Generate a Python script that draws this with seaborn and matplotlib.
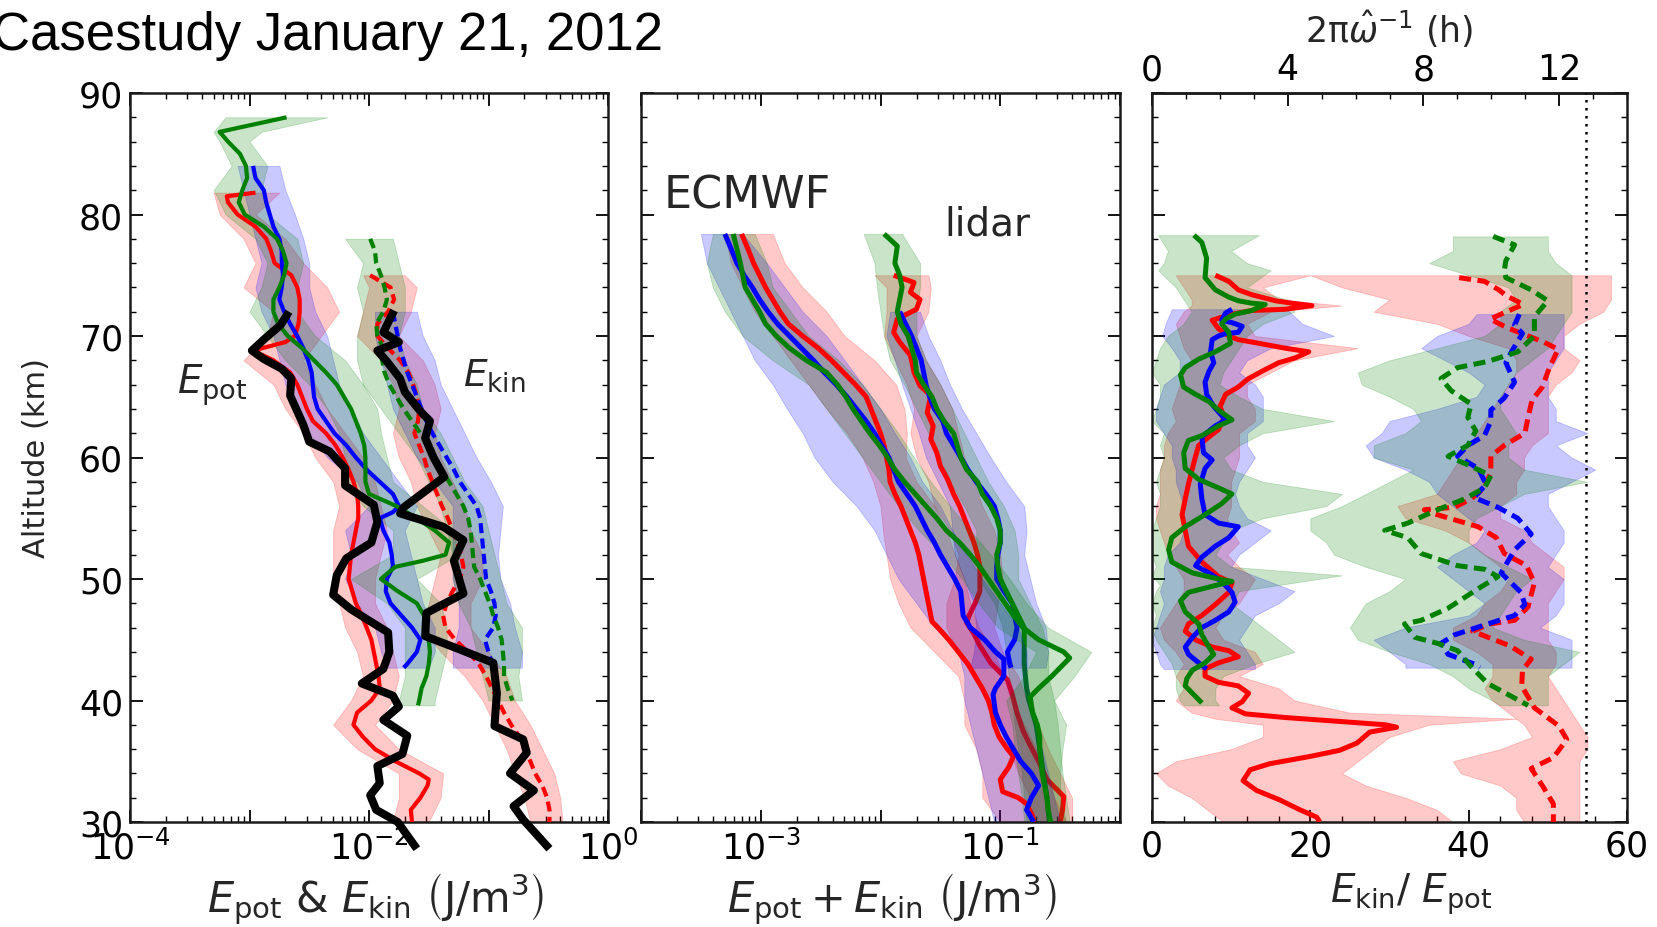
import numpy as np
import matplotlib
matplotlib.use("Agg")
import matplotlib.pyplot as plt
import seaborn as sns
from matplotlib.ticker import FixedLocator, FixedFormatter, LogLocator, NullFormatter, MultipleLocator

# ---------------- DATA ----------------
# Panel 1: Epot / Ekin profiles, values are log10(J/m^3)
p1_epot_red_alt = [81.8, 81.5, 81, 80, 79, 78, 77, 76, 75, 74, 73, 72, 71, 70, 69.5, 68.8, 68, 67, 66, 65, 64, 63, 62, 61, 60, 59, 58, 57, 56, 55, 54, 53, 52, 51, 50, 49, 48, 47, 46, 45, 44, 43, 42, 41, 40, 39, 38, 37, 36, 35, 34, 33.5, 33, 32, 31, 30]
p1_epot_red = [-2.95, -3.19, -3.18, -3.10, -2.95, -2.86, -2.82, -2.79, -2.65, -2.60, -2.58, -2.58, -2.59, -2.62, -2.70, -2.97, -2.80, -2.66, -2.60, -2.56, -2.52, -2.47, -2.36, -2.28, -2.22, -2.17, -2.13, -2.10, -2.09, -2.09, -2.11, -2.13, -2.15, -2.16, -2.17, -2.14, -2.11, -2.06, -2.02, -1.98, -1.96, -1.94, -1.92, -1.91, -1.98, -2.10, -2.13, -2.05, -1.95, -1.78, -1.58, -1.50, -1.51, -1.57, -1.65, -1.64]
p1_epot_red_band_alt = [81.8, 80, 78, 76, 74, 72, 70, 68, 66, 64, 62, 60, 58, 56, 54, 52, 50, 48, 46, 44, 42, 40, 38, 36, 34, 32, 30]
p1_epot_red_lo = [-3.3, -3.25, -3.05, -2.95, -3.05, -2.8, -2.85, -3.05, -2.8, -2.7, -2.55, -2.45, -2.3, -2.25, -2.3, -2.3, -2.3, -2.25, -2.2, -2.1, -2.05, -2.15, -2.3, -2.1, -1.75, -1.75, -1.8]
p1_epot_red_hi = [-2.75, -2.95, -2.7, -2.55, -2.35, -2.25, -2.4, -2.55, -2.45, -2.35, -2.2, -2.05, -1.95, -1.9, -1.85, -1.9, -1.95, -1.95, -1.85, -1.8, -1.75, -1.8, -1.95, -1.75, -1.38, -1.4, -1.5]

p1_epot_blue_alt = [84, 83, 82, 81, 80, 79, 78, 77, 76, 75, 74, 73, 72, 71, 70, 69, 68, 67, 66, 65, 64, 63, 62, 61, 60, 59, 58, 57, 56, 55.5, 55, 54, 53, 52, 51, 50, 49, 48, 47, 46, 45, 44, 43, 42.7]
p1_epot_blue = [-2.97, -2.95, -2.88, -2.86, -2.83, -2.80, -2.75, -2.73, -2.73, -2.72, -2.73, -2.75, -2.71, -2.66, -2.60, -2.55, -2.51, -2.48, -2.47, -2.46, -2.43, -2.36, -2.29, -2.19, -2.11, -2.02, -1.91, -1.80, -1.75, -1.80, -1.91, -1.88, -1.83, -1.81, -1.80, -1.85, -1.86, -1.82, -1.73, -1.64, -1.57, -1.60, -1.68, -1.71]
p1_epot_blue_band_alt = [84, 82, 80, 78, 76, 74, 72, 70, 68, 66, 64, 62, 60, 58, 56, 54, 52, 50, 48, 46, 44, 42.7]
p1_epot_blue_lo = [-3.1, -3.05, -3.0, -2.95, -2.9, -2.95, -2.9, -2.8, -2.75, -2.7, -2.6, -2.5, -2.35, -2.1, -2.0, -2.2, -2.15, -2.2, -2.1, -1.95, -1.9, -1.85]
p1_epot_blue_hi = [-2.75, -2.7, -2.62, -2.55, -2.5, -2.5, -2.45, -2.35, -2.3, -2.25, -2.15, -2.05, -1.9, -1.75, -1.6, -1.7, -1.65, -1.6, -1.55, -1.45, -1.45, -1.5]

p1_epot_green_alt = [88, 86.8, 86, 85, 84, 83, 82, 81, 80, 79, 78, 77, 76, 75, 74, 73, 72, 71, 70, 69, 68, 67, 66, 65, 64, 63, 62, 61, 60, 59, 58, 57, 56, 55, 54, 53, 52, 51.5, 51, 50, 49, 48, 47, 46, 45, 44, 43, 42, 41, 40, 39.6]
p1_epot_green = [-2.69, -3.25, -3.18, -3.08, -3.03, -3.02, -3.06, -3.09, -3.04, -2.88, -2.77, -2.72, -2.69, -2.71, -2.75, -2.80, -2.80, -2.76, -2.68, -2.56, -2.46, -2.36, -2.27, -2.21, -2.15, -2.11, -2.07, -2.04, -2.03, -2.03, -2.03, -2.00, -1.77, -1.60, -1.45, -1.33, -1.36, -1.55, -1.78, -1.90, -1.76, -1.60, -1.54, -1.52, -1.50, -1.49, -1.50, -1.52, -1.56, -1.58, -1.59]
p1_epot_green_band_alt = [88, 86.8, 86, 84, 82, 80, 78, 76, 74, 72, 70, 68, 66, 64, 62, 60, 58, 56, 54, 52, 50, 48, 46, 44, 42, 40, 39.6]
p1_epot_green_lo = [-3.2, -3.3, -3.25, -3.15, -3.3, -3.2, -2.95, -2.85, -2.9, -3.0, -2.85, -2.7, -2.5, -2.35, -2.25, -2.2, -2.2, -2.05, -1.8, -1.8, -2.15, -1.85, -1.7, -1.7, -1.7, -1.75, -1.75]
p1_epot_green_hi = [-2.35, -2.9, -3.0, -2.85, -2.9, -2.85, -2.6, -2.55, -2.6, -2.6, -2.45, -2.2, -2.05, -1.93, -1.9, -1.85, -1.8, -1.55, -1.3, -1.25, -1.6, -1.4, -1.35, -1.35, -1.4, -1.45, -1.45]

p1_ekin_red_alt = [75, 74, 73, 72, 71, 70, 69, 68, 67, 66, 65, 64, 63, 62, 61, 60, 59, 58, 57, 56, 55, 54, 53, 52, 51, 50, 49, 48, 47, 46, 45, 44, 43, 42, 41, 40, 39, 38, 37, 36, 35, 34, 33, 32, 31, 30]
p1_ekin_red = [-1.99, -1.82, -1.79, -1.84, -1.93, -1.93, -1.84, -1.74, -1.67, -1.63, -1.60, -1.58, -1.59, -1.62, -1.58, -1.54, -1.51, -1.47, -1.43, -1.39, -1.34, -1.30, -1.26, -1.23, -1.21, -1.24, -1.30, -1.35, -1.38, -1.36, -1.28, -1.17, -1.08, -1.02, -0.97, -0.92, -0.87, -0.81, -0.74, -0.70, -0.65, -0.61, -0.55, -0.51, -0.49, -0.49]
p1_ekin_red_band_alt = [75, 74, 72, 70, 68, 66, 64, 62, 60, 58, 56, 54, 52, 50, 48, 46, 44, 42, 40, 38, 36, 34, 32, 30]
p1_ekin_red_lo = [-2.05, -2.0, -2.05, -2.1, -1.9, -1.8, -1.75, -1.8, -1.75, -1.65, -1.6, -1.5, -1.4, -1.45, -1.5, -1.55, -1.4, -1.2, -1.05, -0.95, -0.85, -0.78, -0.7, -0.65]
p1_ekin_red_hi = [-1.7, -1.6, -1.65, -1.75, -1.55, -1.45, -1.4, -1.45, -1.4, -1.3, -1.2, -1.15, -1.05, -1.05, -1.15, -1.15, -1.0, -0.85, -0.78, -0.65, -0.55, -0.45, -0.4, -0.38]

p1_ekin_blue_alt = [72, 71, 70, 69, 68, 67, 66, 65, 64, 63, 62, 61, 60, 59, 58, 57, 56, 55, 54, 53, 52, 51, 50, 49, 48, 47, 46, 45, 44, 43, 42.7]
p1_ekin_blue = [-1.80, -1.78, -1.76, -1.74, -1.71, -1.68, -1.64, -1.60, -1.56, -1.52, -1.47, -1.41, -1.35, -1.29, -1.24, -1.17, -1.10, -1.07, -1.06, -1.05, -1.04, -1.03, -1.02, -0.98, -0.95, -0.94, -0.96, -1.03, -1.00, -0.97, -0.96]
p1_ekin_blue_band_alt = [72, 70, 68, 66, 64, 62, 60, 58, 56, 54, 52, 50, 48, 46, 44, 42.7]
p1_ekin_blue_lo = [-1.95, -1.95, -1.9, -1.85, -1.8, -1.7, -1.6, -1.45, -1.3, -1.3, -1.3, -1.3, -1.25, -1.25, -1.3, -1.3]
p1_ekin_blue_hi = [-1.6, -1.55, -1.45, -1.4, -1.3, -1.2, -1.1, -0.98, -0.88, -0.9, -0.92, -0.9, -0.82, -0.78, -0.72, -0.72]

p1_ekin_green_alt = [78, 77, 76, 75, 74, 73, 72, 71, 70, 69, 68, 67, 66, 65, 64, 63, 62, 61, 60, 59, 58, 57, 56, 55, 54, 53, 52, 51, 50, 49, 48, 47, 46, 45, 44, 43, 42, 41, 40]
p1_ekin_green = [-1.99, -1.95, -1.94, -1.90, -1.87, -1.85, -1.88, -1.94, -1.93, -1.88, -1.89, -1.87, -1.83, -1.77, -1.71, -1.64, -1.57, -1.50, -1.45, -1.39, -1.33, -1.27, -1.21, -1.17, -1.15, -1.14, -1.13, -1.12, -1.07, -1.03, -0.99, -0.96, -0.92, -0.89, -0.88, -0.87, -0.87, -0.84, -0.80]
p1_ekin_green_band_alt = [78, 76, 74, 72, 70, 68, 66, 64, 62, 60, 58, 56, 54, 52, 50, 48, 46, 44, 42, 40]
p1_ekin_green_lo = [-2.2, -2.05, -2.1, -2.05, -2.1, -2.1, -2.05, -1.9, -1.75, -1.6, -1.5, -1.4, -1.35, -1.3, -1.3, -1.25, -1.15, -1.1, -1.05, -1.0]
p1_ekin_green_hi = [-1.8, -1.75, -1.7, -1.7, -1.75, -1.7, -1.6, -1.55, -1.4, -1.3, -1.2, -1.05, -1.0, -0.95, -0.9, -0.85, -0.72, -0.72, -0.75, -0.72]

p1_black_epot_alt = [72.0, 70.9, 69.8, 68.8, 68.1, 67.3, 66.5, 65.1, 63.8, 62.7, 61.3, 60.5, 59.1, 57.7, 56.1, 54.7, 53.0, 51.7, 50.3, 48.7, 47.5, 45.6, 44.0, 42.6, 41.4, 40.4, 39.5, 38.4, 37.1, 35.6, 34.6, 33.2, 32.2, 31.0, 30.0, 27.8]
p1_black_epot = [-2.67, -2.74, -2.87, -2.98, -2.88, -2.73, -2.65, -2.66, -2.60, -2.55, -2.50, -2.33, -2.20, -2.20, -1.96, -1.93, -1.98, -2.19, -2.27, -2.30, -2.15, -1.84, -1.83, -1.88, -2.06, -1.80, -1.75, -1.88, -1.68, -1.72, -1.93, -1.91, -1.99, -1.94, -1.76, -1.60]
p1_black_ekin_alt = [72.1, 70.3, 69.5, 68.8, 67.9, 66.5, 65.4, 63.8, 63.0, 61.6, 60.0, 58.4, 55.9, 55.4, 54.3, 53.2, 51.5, 48.8, 47.2, 45.3, 44.2, 43.1, 40.6, 37.9, 36.8, 35.7, 34.0, 32.6, 31.3, 30.2, 27.8]
p1_black_ekin = [-1.79, -1.88, -1.75, -1.93, -1.85, -1.74, -1.70, -1.57, -1.49, -1.53, -1.46, -1.37, -1.71, -1.74, -1.38, -1.21, -1.29, -1.21, -1.52, -1.53, -1.24, -0.96, -0.93, -0.95, -0.71, -0.68, -0.82, -0.62, -0.79, -0.71, -0.49]

# Panel 2: Epot + Ekin, log10(J/m^3)
p2_band_alt = [78.4, 76, 74, 72, 70, 68, 66, 64, 62, 60, 58, 56, 54, 52, 50, 48, 46, 44, 42, 40, 38, 36, 34, 32, 30]
p2_ecm_red_alt = [78.4, 77, 76, 75, 74, 73, 72, 71, 70, 69, 68, 67, 66, 65, 64, 63, 62, 61, 60, 59, 58, 57, 56, 55, 54, 53, 52, 51, 50, 49, 48, 47, 46.5, 46, 45, 44, 43, 42, 41, 40, 39, 38, 37, 36, 35.4, 34.5, 33.5, 32.5, 32, 31.5, 30.5, 30]
p2_ecm_red = [-3.16, -3.10, -3.06, -3.01, -2.96, -2.90, -2.84, -2.77, -2.65, -2.52, -2.41, -2.31, -2.21, -2.12, -2.08, -2.04, -2.00, -1.97, -1.95, -1.93, -1.92, -1.88, -1.83, -1.79, -1.75, -1.71, -1.68, -1.66, -1.64, -1.62, -1.60, -1.58, -1.57, -1.52, -1.43, -1.35, -1.27, -1.21, -1.15, -1.10, -1.07, -1.05, -1.01, -0.94, -0.89, -0.93, -1.00, -0.98, -0.85, -0.78, -0.73, -0.72]
p2_ecm_red_lo = [-3.3, -3.25, -3.15, -3.05, -2.9, -2.75, -2.6, -2.45, -2.28, -2.15, -2.06, -2.0, -1.98, -1.95, -1.92, -1.85, -1.75, -1.55, -1.35, -1.3, -1.3, -1.2, -1.15, -1.15, -1.0]
p2_ecm_red_hi = [-2.9, -2.8, -2.65, -2.45, -2.3, -2.05, -1.87, -1.8, -1.78, -1.79, -1.7, -1.55, -1.45, -1.38, -1.30, -1.25, -1.18, -1.05, -0.98, -0.9, -0.8, -0.7, -0.62, -0.55, -0.45]

p2_ecm_blue_alt = [78.4, 77, 76, 75, 74, 73, 72, 71, 70, 69, 68, 67, 66, 65, 64, 63, 62, 61, 60, 59, 58, 57, 56, 55, 54, 53, 52, 51, 50, 49, 48, 47, 46, 45, 44, 43.4, 42, 41, 40.5, 39, 38, 37, 36, 35, 34, 33, 32, 31, 30]
p2_ecm_blue = [-3.30, -3.24, -3.20, -3.14, -3.07, -3.01, -2.94, -2.86, -2.76, -2.66, -2.56, -2.47, -2.37, -2.28, -2.20, -2.12, -2.05, -1.99, -1.93, -1.89, -1.85, -1.78, -1.71, -1.66, -1.61, -1.55, -1.50, -1.44, -1.38, -1.33, -1.32, -1.31, -1.25, -1.13, -1.04, -0.97, -0.97, -1.04, -1.06, -1.04, -1.00, -0.95, -0.89, -0.83, -0.74, -0.68, -0.74, -0.78, -0.72]
p2_ecm_blue_lo = [-3.5, -3.45, -3.35, -3.25, -3.15, -3.05, -2.9, -2.78, -2.65, -2.55, -2.4, -2.2, -2.05, -1.95, -1.85, -1.7, -1.55, -1.35, -1.3, -1.3, -1.25, -1.2, -1.15, -1.1, -1.05]
p2_ecm_blue_hi = [-3.15, -2.95, -2.8, -2.65, -2.45, -2.3, -2.15, -2.0, -1.88, -1.75, -1.65, -1.5, -1.4, -1.28, -1.15, -1.0, -0.85, -0.78, -0.78, -0.75, -0.72, -0.65, -0.6, -0.55, -0.5]

p2_ecm_green_alt = [78.4, 76, 74, 72, 71, 70, 69, 68, 67, 66, 65, 64, 63, 62, 61, 60, 59, 58, 57, 56, 55, 54, 53, 52, 51, 50, 49, 48, 47, 46, 45, 44, 43.5, 43, 42, 41, 40.3, 39, 38, 37, 36, 35, 34, 33, 32, 31, 30]
p2_ecm_green = [-3.23, -3.17, -3.13, -3.01, -2.96, -2.87, -2.76, -2.62, -2.45, -2.36, -2.29, -2.23, -2.16, -2.09, -2.01, -1.94, -1.88, -1.80, -1.71, -1.62, -1.53, -1.45, -1.34, -1.25, -1.17, -1.10, -1.03, -0.96, -0.89, -0.81, -0.68, -0.47, -0.42, -0.47, -0.57, -0.68, -0.75, -0.73, -0.69, -0.67, -0.67, -0.66, -0.65, -0.63, -0.61, -0.60, -0.58]
p2_ecm_green_lo = [-3.4, -3.45, -3.4, -3.3, -3.15, -2.9, -2.6, -2.45, -2.3, -2.15, -2.0, -1.85, -1.68, -1.48, -1.32, -1.18, -1.02, -0.7, -0.8, -0.95, -0.9, -0.88, -0.85, -0.82, -0.8]
p2_ecm_green_hi = [-3.05, -2.95, -2.9, -2.75, -2.6, -2.35, -2.15, -2.0, -1.85, -1.72, -1.58, -1.42, -1.25, -1.08, -0.92, -0.78, -0.6, -0.24, -0.38, -0.55, -0.45, -0.48, -0.5, -0.5, -0.45]

p2_lid_red_alt = [75, 74.4, 73.6, 73, 72.2, 71.4, 70.3, 69.5, 68.4, 67, 65.9, 65.1, 63.7, 62.6, 61.5, 60.4, 59.3, 58.2, 57, 56, 55, 54, 53, 52, 51, 50, 49, 48, 47, 46.4, 45.5, 44.5, 43.1, 41.7, 40.5, 39, 37.5, 36.3, 35, 33.5, 32.1, 31, 30]
p2_lid_red = [-1.89, -1.72, -1.75, -1.67, -1.70, -1.86, -1.89, -1.84, -1.75, -1.72, -1.67, -1.58, -1.61, -1.56, -1.58, -1.53, -1.50, -1.44, -1.39, -1.34, -1.30, -1.26, -1.22, -1.19, -1.17, -1.17, -1.17, -1.21, -1.26, -1.28, -1.22, -1.17, -1.08, -0.94, -0.90, -0.86, -0.81, -0.75, -0.68, -0.61, -0.47, -0.48, -0.50]
p2_lid_red_band_alt = [75, 74, 72, 70, 68, 66, 64, 62, 60, 58, 56, 54, 52, 50, 48, 46, 44, 42, 40, 38, 36, 34, 32, 30]
p2_lid_red_lo = [-2.05, -1.95, -1.95, -1.97, -1.88, -1.78, -1.72, -1.75, -1.7, -1.6, -1.55, -1.42, -1.35, -1.38, -1.45, -1.45, -1.35, -1.2, -1.08, -1.0, -0.92, -0.85, -0.75, -0.75]
p2_lid_red_hi = [-1.6, -1.58, -1.6, -1.7, -1.62, -1.5, -1.4, -1.35, -1.3, -1.22, -1.15, -1.05, -1.0, -0.98, -1.02, -1.05, -0.98, -0.85, -0.78, -0.68, -0.6, -0.5, -0.4, -0.4]

p2_lid_blue_alt = [72, 71, 70, 69, 68, 67, 66, 65, 64, 63, 62, 61, 60, 59, 58, 57, 56, 55, 54, 53, 52, 51, 50, 49, 48, 47, 46, 45, 44, 43, 42.7]
p2_lid_blue = [-1.84, -1.79, -1.74, -1.70, -1.66, -1.64, -1.62, -1.59, -1.55, -1.48, -1.45, -1.39, -1.33, -1.27, -1.20, -1.12, -1.05, -1.02, -1.00, -1.00, -1.02, -1.03, -1.03, -0.97, -0.90, -0.88, -0.86, -0.88, -0.94, -0.92, -0.91]
p2_lid_blue_band_alt = [72, 70, 68, 66, 64, 62, 60, 58, 56, 54, 52, 50, 48, 46, 44, 42.7]
p2_lid_blue_lo = [-1.92, -1.95, -1.88, -1.82, -1.75, -1.68, -1.62, -1.52, -1.42, -1.4, -1.38, -1.3, -1.22, -1.2, -1.22, -1.25]
p2_lid_blue_hi = [-1.67, -1.6, -1.5, -1.42, -1.32, -1.2, -1.08, -0.95, -0.8, -0.78, -0.8, -0.75, -0.7, -0.62, -0.6, -0.62]

p2_lid_green_alt = [78.4, 77.4, 76, 75, 74, 73, 72, 71, 70, 69, 68, 67, 66, 65, 64, 63, 62, 61, 60, 59, 58, 57, 56, 55, 54, 53, 52, 51, 50, 49, 48, 47, 46, 45, 44, 43, 42, 41, 40, 38, 36, 34, 32, 30]
p2_lid_green = [-1.97, -1.86, -1.88, -1.84, -1.82, -1.84, -1.86, -1.83, -1.77, -1.74, -1.71, -1.70, -1.64, -1.57, -1.53, -1.47, -1.39, -1.36, -1.33, -1.28, -1.19, -1.15, -1.08, -1.03, -1.0, -1.0, -1.03, -1.02, -1.0, -0.95, -0.90, -0.85, -0.80, -0.80, -0.80, -0.80, -0.79, -0.78, -0.76, -0.70, -0.67, -0.64, -0.61, -0.59]
p2_lid_green_lo = [-2.14, -2.05, -2.03, -2.0, -1.97, -1.92, -1.8, -1.7, -1.6, -1.5, -1.42, -1.3, -1.2, -1.2, -1.18, -1.05, -0.98, -0.95, -0.93, -0.9, -0.88, -0.85, -0.82, -0.8, -0.78]
p2_lid_green_hi = [-1.82, -1.67, -1.67, -1.7, -1.7, -1.62, -1.5, -1.4, -1.3, -1.2, -1.1, -0.97, -0.88, -0.85, -0.85, -0.75, -0.65, -0.6, -0.6, -0.55, -0.52, -0.5, -0.48, -0.45, -0.42]

# Panel 3: Ekin/Epot ratio
p3_sol_red_alt = [75.0, 74.5, 73.8, 73.4, 72.9, 72.7, 72.5, 72.2, 72.1, 71.8, 71.3, 70.6, 70.0, 69.7, 69.4, 69.0, 68.7, 68.2, 67.8, 67.1, 66.5, 65.8, 65.2, 64.2, 63.3, 62.3, 61.7, 61.0, 60.1, 59.1, 57.8, 56.6, 55.3, 54.0, 52.7, 51.4, 50.2, 49.7, 48.9, 47.9, 47.0, 46.3, 45.7, 45.0, 44.4, 44.1, 43.6, 43.1, 42.6, 42.0, 41.5, 41.2, 40.6, 39.9, 39.4, 38.9, 38.6, 38.3, 38.0, 37.8, 37.4, 36.5, 35.9, 35.4, 34.8, 34.3, 33.4, 32.6, 31.8, 31.0, 30.4, 30.0]
p3_sol_red = [8.0, 9.7, 10.9, 12.6, 15.6, 17.7, 20.2, 16.8, 12.6, 10.1, 7.6, 8.4, 9.7, 10.9, 13.5, 16.8, 19.8, 18.1, 16.0, 13.9, 12.2, 10.9, 9.3, 8.6, 9.1, 8.4, 7.2, 5.9, 5.5, 5.1, 4.6, 4.2, 3.8, 4.2, 4.6, 6.3, 8.4, 10.1, 9.7, 8.0, 6.3, 4.6, 4.2, 5.5, 7.6, 9.7, 10.9, 8.4, 6.7, 6.7, 8.4, 10.9, 12.2, 11.4, 10.1, 11.8, 16.8, 23.2, 29.5, 30.9, 27.5, 25.9, 23.7, 20.0, 14.9, 12.4, 11.5, 13.2, 16.2, 18.7, 20.8, 21.2]
p3_sol_red_band_alt = [75, 74, 73, 72.5, 72, 71, 70, 69, 68, 67, 66, 65, 64, 63, 62, 61, 60, 59, 58, 57, 56, 55, 54, 53, 52, 51, 50, 49, 48, 47, 46, 45, 44, 43, 42, 41, 40, 39, 38.5, 38, 37, 36, 35, 34, 33, 32, 31, 30]
p3_sol_red_lo = [3.0, 4.0, 5.0, 5.0, 4.0, 3.0, 3.5, 4.0, 5.0, 4.0, 3.5, 3.0, 2.5, 3.0, 2.0, 1.5, 1.5, 1.0, 1.0, 1.0, 0.5, 0.5, 1.0, 1.5, 2.0, 3.0, 4.0, 4.0, 3.0, 2.0, 1.0, 1.5, 3.0, 4.0, 3.0, 4.0, 3.0, 5.0, 8.0, 14.0, 14.0, 10.0, 3.0, 0.5, 2.0, 5.0, 7.0, 9.0]
p3_sol_red_hi = [20.0, 14.0, 16.0, 24.0, 15.0, 12.0, 13.0, 26.0, 18.0, 15.0, 12.0, 12.0, 13.0, 13.0, 11.0, 11.0, 11.0, 10.5, 10.0, 10.0, 10.0, 9.5, 10.0, 11.0, 9.5, 11.0, 13.0, 12.0, 11.0, 9.0, 8.0, 9.0, 13.0, 14.0, 11.0, 16.0, 18.0, 25.0, 46.0, 35.0, 30.0, 28.0, 26.0, 24.0, 27.0, 32.0, 36.0, 38.0]

p3_sol_blue_alt = [72.2, 71.9, 71.3, 71.1, 70.8, 70.3, 70.2, 70.0, 69.7, 68.7, 67.8, 67.1, 66.2, 65.2, 64.2, 63.1, 62.6, 61.7, 60.4, 59.8, 59.1, 57.8, 56.6, 55.3, 54.6, 54.3, 53.4, 52.7, 51.8, 51.1, 50.5, 49.8, 48.9, 48.1, 47.3, 46.6, 46.0, 45.2, 44.4, 43.8, 43.1, 42.6]
p3_sol_blue = [10.1, 9.3, 8.8, 10.1, 11.4, 10.9, 9.3, 8.4, 7.6, 7.4, 7.8, 7.2, 6.7, 6.9, 7.8, 9.3, 8.0, 6.3, 6.5, 7.6, 6.7, 6.1, 6.3, 6.7, 8.4, 10.9, 9.7, 8.0, 6.3, 5.5, 7.2, 8.8, 10.1, 10.5, 9.7, 8.0, 6.3, 5.1, 4.2, 4.6, 5.9, 6.9]
p3_sol_blue_band_alt = [72.2, 71, 70, 69, 68, 67, 66, 65, 64, 63, 62, 61, 60, 59, 58, 57, 56, 55, 54, 53, 52, 51, 50, 49, 48, 47, 46, 45, 44, 43, 42.6]
p3_sol_blue_lo = [2.5, 1.7, 1.3, 2.5, 3.5, 3.5, 1.5, 1.0, 0.5, 0.5, 1.5, 2.5, 2.5, 3.0, 3.0, 3.5, 4.0, 4.0, 4.0, 3.5, 2.0, 1.5, 1.5, 1.0, 1.5, 1.0, 0.5, 0.0, 0.5, 1.0, 1.5]
p3_sol_blue_hi = [17.0, 19.0, 23.0, 15.0, 12.0, 11.0, 13.0, 14.0, 14.0, 14.0, 12.0, 12.0, 13.0, 12.0, 11.0, 10.5, 11.0, 12.0, 15.0, 13.0, 11.0, 10.0, 14.0, 18.0, 16.0, 13.0, 12.0, 11.0, 12.0, 13.0, 13.0]

p3_sol_green_alt = [78.3, 77.7, 76.4, 74.8, 73.8, 73.2, 72.9, 72.7, 72.6, 72.1, 71.8, 71.4, 71.0, 70.3, 69.4, 68.7, 68.1, 67.4, 66.8, 65.8, 65.2, 64.6, 63.9, 63.1, 62.6, 61.8, 61.4, 60.4, 59.1, 58.2, 57.5, 57.0, 56.2, 55.3, 54.3, 53.4, 52.4, 51.4, 50.5, 50.0, 49.8, 49.4, 48.9, 48.2, 47.3, 46.3, 45.4, 44.4, 43.8, 43.1, 42.5, 41.8, 41.2, 40.6, 39.8]
p3_sol_green = [5.3, 6.3, 6.9, 6.7, 8.0, 9.7, 10.9, 12.6, 14.3, 12.6, 10.5, 9.3, 8.8, 9.7, 9.9, 8.0, 5.9, 4.2, 3.6, 4.0, 5.5, 7.2, 8.4, 10.1, 8.4, 6.3, 4.6, 4.0, 4.2, 5.9, 8.4, 10.1, 8.8, 6.7, 4.2, 2.5, 2.1, 2.5, 5.1, 8.4, 10.1, 7.6, 4.6, 3.6, 4.2, 5.9, 6.3, 7.2, 7.8, 6.7, 5.1, 4.4, 4.2, 5.1, 6.3]
p3_sol_green_band_alt = [78.3, 77, 76, 75.4, 74, 73, 72, 71, 70, 69, 68, 67, 66, 65, 64, 63, 62, 61, 60, 59, 58, 57, 56, 55, 54, 53, 52, 51, 50.3, 49.5, 49, 48, 47, 46, 45, 44, 43, 42, 41, 40, 39.6]
p3_sol_green_lo = [0.8, 2.0, 1.5, 0.8, 3.0, 4.0, 5.0, 4.0, 2.0, 1.0, 0.5, 0.0, 1.0, 1.0, 0.5, 0.0, 1.5, 1.0, 1.5, 1.0, 0.5, 1.0, 1.0, 0.5, 0.0, 0.0, 0.0, 0.5, 0.0, 1.0, 0.5, 0.0, 0.5, 0.0, 0.5, 1.5, 2.5, 3.0, 3.0, 3.5, 4.0]
p3_sol_green_hi = [13.5, 10.0, 12.0, 15.0, 12.0, 17.0, 18.0, 14.0, 12.0, 11.0, 10.0, 9.0, 8.5, 11.0, 14.0, 23.0, 14.0, 11.0, 9.0, 10.0, 14.0, 24.0, 22.0, 14.0, 10.0, 9.0, 8.0, 10.0, 24.0, 16.0, 11.0, 10.0, 12.0, 14.0, 16.0, 18.0, 13.0, 9.0, 8.0, 8.0, 8.5]

p3_dash_red_alt = [74.8, 74.5, 73.8, 73.3, 72.6, 72.2, 71.4, 70.7, 70.0, 69.5, 68.9, 67.4, 65.8, 64.7, 63.3, 62.0, 61.0, 60.1, 58.8, 57.5, 56.6, 55.9, 55.7, 55.3, 54.3, 53.4, 52.1, 51.1, 49.7, 47.7, 46.6, 46.3, 45.7, 44.5, 43.4, 42.5, 41.2, 39.4, 37.9, 36.8, 35.3, 34.4, 32.9, 31.5, 30.0]
p3_dash_red = [38.8, 42.0, 43.8, 44.8, 46.9, 45.5, 42.7, 44.8, 47.5, 49.5, 51.3, 50.2, 49.3, 48.0, 47.5, 47.1, 44.5, 42.8, 42.8, 42.0, 40.3, 38.2, 34.4, 36.0, 41.2, 43.5, 44.5, 47.3, 48.3, 47.5, 45.8, 42.6, 40.5, 45.2, 47.9, 46.8, 46.7, 48.3, 51.4, 52.4, 50.7, 47.9, 49.4, 50.7, 50.7]
p3_dash_red_band_alt = [75, 74, 73, 72, 71, 70, 69, 68, 67, 66, 65, 64, 63, 62, 61, 60, 59, 58, 57, 56, 55, 54, 53, 52, 51, 50, 49, 48, 47, 46, 45, 44, 43, 42, 41, 40, 39, 38, 37, 36, 35, 34, 33, 32, 31, 30]
p3_dash_red_lo = [20.0, 24.0, 30.0, 28.0, 36.0, 40.0, 45.0, 46.0, 46.0, 45.0, 44.0, 43.0, 42.0, 41.0, 40.0, 39.0, 38.0, 37.0, 36.0, 31.0, 32.0, 37.0, 40.0, 42.0, 44.0, 45.0, 44.0, 42.0, 41.0, 38.0, 38.0, 41.0, 43.0, 43.0, 42.0, 43.0, 45.0, 47.0, 48.0, 44.0, 38.0, 39.0, 44.0, 46.0, 46.0, 47.0]
p3_dash_red_hi = [58.0, 58.0, 58.0, 57.0, 54.0, 52.0, 52.0, 54.0, 53.0, 51.0, 50.0, 50.0, 50.0, 50.0, 48.0, 47.0, 47.0, 46.0, 46.0, 44.0, 44.0, 47.0, 48.0, 50.0, 52.0, 52.0, 51.0, 50.0, 50.0, 50.0, 50.0, 51.0, 51.0, 50.0, 51.0, 52.0, 53.0, 54.0, 55.0, 55.0, 54.0, 54.0, 54.0, 54.0, 54.0, 54.0]

p3_dash_blue_alt = [71.8, 70.9, 70.2, 68.7, 67.8, 66.2, 64.9, 63.9, 63.0, 61.8, 61.0, 60.1, 59.1, 57.8, 56.7, 55.9, 55.0, 53.7, 52.4, 50.5, 48.9, 47.9, 47.0, 46.3, 45.4, 44.7, 43.8, 43.0, 42.7]
p3_dash_blue = [46.4, 45.8, 46.8, 45.4, 44.7, 45.8, 44.5, 42.8, 42.8, 42.0, 39.9, 38.6, 41.2, 42.2, 40.7, 43.7, 46.2, 47.9, 45.8, 44.1, 46.6, 47.1, 45.8, 42.4, 38.2, 36.5, 37.4, 40.7, 41.4]
p3_dash_blue_band_alt = [71.8, 71, 70, 69, 68, 67, 66, 65, 64, 63, 62, 61, 60, 59, 58, 57, 56, 55, 54, 53, 52, 51, 50, 49, 48, 47, 46, 45, 44, 43, 42.7]
p3_dash_blue_lo = [41.0, 40.0, 36.0, 34.0, 37.0, 40.0, 42.0, 41.0, 36.0, 30.0, 29.0, 27.0, 28.0, 32.0, 35.0, 36.0, 38.0, 40.0, 42.0, 41.0, 38.0, 36.0, 38.0, 40.0, 42.0, 40.0, 32.0, 28.0, 30.0, 32.0, 32.0]
p3_dash_blue_hi = [52.0, 52.0, 52.0, 52.0, 51.0, 50.0, 50.0, 50.0, 51.0, 51.0, 55.0, 51.0, 53.0, 56.0, 53.0, 50.0, 50.0, 51.0, 52.0, 52.0, 51.0, 50.0, 52.0, 52.0, 52.0, 51.0, 49.0, 53.0, 53.0, 53.0, 53.0]

p3_dash_green_alt = [78.2, 77.5, 76.2, 75.4, 74.8, 73.8, 72.9, 71.6, 70.0, 68.7, 67.9, 67.4, 66.5, 65.5, 64.4, 63.3, 62.2, 61.0, 60.1, 59.4, 58.5, 57.5, 56.6, 55.6, 54.6, 54.0, 53.4, 52.1, 51.1, 50.8, 50.2, 49.2, 47.6, 46.6, 46.3, 45.2, 44.7, 44.1, 42.8, 41.4, 40.2, 39.6]
p3_dash_green = [43.1, 45.8, 44.7, 44.5, 44.7, 47.9, 50.0, 48.3, 48.3, 46.2, 42.4, 38.6, 36.5, 37.8, 40.3, 39.9, 40.9, 39.9, 37.4, 39.9, 42.8, 42.0, 39.5, 35.7, 32.3, 29.4, 32.3, 34.0, 38.6, 42.0, 43.7, 41.2, 37.4, 34.0, 31.9, 33.2, 36.1, 38.6, 40.3, 42.4, 45.8, 47.5]
p3_dash_green_band_alt = [78.2, 77, 76, 75, 74, 73, 72, 71, 70, 69, 68, 67, 66, 65, 64, 63, 62, 61, 60, 59, 58, 57, 56, 55, 54, 53, 52, 51, 50, 49, 48, 47, 46, 45, 44, 43, 42, 41, 40, 39.6]
p3_dash_green_lo = [38.0, 38.0, 35.0, 40.0, 45.0, 46.0, 44.0, 44.0, 42.0, 36.0, 30.0, 26.0, 26.5, 30.0, 33.0, 34.0, 32.0, 28.0, 28.0, 33.0, 30.0, 27.0, 24.0, 20.0, 20.0, 22.0, 23.0, 27.0, 32.0, 30.0, 27.0, 26.0, 25.0, 26.0, 30.0, 35.0, 38.0, 40.0, 43.0, 44.0]
p3_dash_green_hi = [50.0, 50.0, 51.0, 53.0, 53.0, 53.0, 53.0, 52.0, 51.0, 50.0, 48.0, 46.0, 45.0, 44.0, 44.0, 45.0, 46.0, 45.0, 45.0, 47.0, 55.0, 47.0, 44.0, 41.0, 40.0, 40.0, 42.0, 45.0, 48.0, 46.0, 45.0, 44.0, 43.0, 47.0, 54.0, 52.0, 50.0, 50.0, 50.0, 50.0]

inertial_ratio = 54.8          # dotted line (Ekin/Epot at f)
top_period_max = 14.0          # top axis 2*pi/omega (h) spans 0..14 while bottom spans 0..60

# ---------------- STYLE ----------------
sns.set_style("ticks")
plt.rcParams["font.family"] = ["DejaVu Sans"]
plt.rcParams["mathtext.fontset"] = "dejavusans"

RED, BLUE, GREEN = "#ff0000", "#0000ff", "#008000"
DASH = (0, (2.4, 1.3))
INK = "black"
TICK_FS = 25

W, H = 1657, 928
fig = plt.figure(figsize=(W / 100, H / 100), dpi=100)


def rect(l, t, r, b):
    return [l / W, 1 - b / H, (r - l) / W, (b - t) / H]


ax1 = fig.add_axes(rect(130, 94, 608, 823))
ax2 = fig.add_axes(rect(641, 94, 1120, 823))
ax3 = fig.add_axes(rect(1152, 94, 1627, 823))


def tolin(v, log):
    v = np.asarray(v, dtype=float)
    return np.power(10.0, v) if log else v


def band(ax, alt, lo, hi, color, log=True, z=1):
    ax.fill_betweenx(np.asarray(alt, float), tolin(lo, log), tolin(hi, log),
                     color=color, alpha=0.21, linewidth=0.6, zorder=z)


def prof(ax, vals, alts, color, lw, dashed=False, log=True, clip=True, z=3):
    n = len(ax.lines)
    sns.lineplot(x=tolin(vals, log), y=np.asarray(alts, float), sort=False,
                 estimator=None, color=color, linewidth=lw, ax=ax,
                 legend=False, zorder=z)
    ln = ax.lines[n]
    ln.set_solid_capstyle("butt")
    if dashed:
        ln.set_linestyle(DASH)
        ln.set_dash_capstyle("butt")
    if not clip:
        ln.set_clip_on(False)


# ---------------- PANEL 1 ----------------
band(ax1, p1_epot_red_band_alt, p1_epot_red_lo, p1_epot_red_hi, RED)
band(ax1, p1_ekin_red_band_alt, p1_ekin_red_lo, p1_ekin_red_hi, RED)
band(ax1, p1_epot_blue_band_alt, p1_epot_blue_lo, p1_epot_blue_hi, BLUE)
band(ax1, p1_ekin_blue_band_alt, p1_ekin_blue_lo, p1_ekin_blue_hi, BLUE)
band(ax1, p1_epot_green_band_alt, p1_epot_green_lo, p1_epot_green_hi, GREEN)
band(ax1, p1_ekin_green_band_alt, p1_ekin_green_lo, p1_ekin_green_hi, GREEN)
lw1 = 3.0
prof(ax1, p1_epot_red, p1_epot_red_alt, RED, lw1)
prof(ax1, p1_ekin_red, p1_ekin_red_alt, RED, lw1, dashed=True)
prof(ax1, p1_epot_blue, p1_epot_blue_alt, BLUE, lw1)
prof(ax1, p1_ekin_blue, p1_ekin_blue_alt, BLUE, lw1, dashed=True)
prof(ax1, p1_epot_green, p1_epot_green_alt, GREEN, lw1)
prof(ax1, p1_ekin_green, p1_ekin_green_alt, GREEN, lw1, dashed=True)
prof(ax1, p1_black_epot, p1_black_epot_alt, "black", 5.8, clip=False, z=5)
prof(ax1, p1_black_ekin, p1_black_ekin_alt, "black", 5.8, clip=False, z=5)
ax1.text(10 ** -3.31, 66.0, r"$E_{\mathrm{pot}}$", fontsize=28, ha="center", va="center")
ax1.text(10 ** -0.95, 66.8, r"$E_{\mathrm{kin}}$", fontsize=27, ha="center", va="center")

# ---------------- PANEL 2 ----------------
lw2 = 3.6
band(ax2, p2_lid_red_band_alt, p2_lid_red_lo, p2_lid_red_hi, RED)
band(ax2, p2_lid_blue_band_alt, p2_lid_blue_lo, p2_lid_blue_hi, BLUE)
band(ax2, p2_band_alt, p2_lid_green_lo, p2_lid_green_hi, GREEN)
prof(ax2, p2_lid_red, p2_lid_red_alt, RED, lw2, z=1.5)
prof(ax2, p2_lid_blue, p2_lid_blue_alt, BLUE, lw2, z=1.5)
prof(ax2, p2_lid_green, p2_lid_green_alt, GREEN, lw2, z=1.5)
band(ax2, p2_band_alt, p2_ecm_red_lo, p2_ecm_red_hi, RED, z=2)
band(ax2, p2_band_alt, p2_ecm_blue_lo, p2_ecm_blue_hi, BLUE, z=2)
band(ax2, p2_band_alt, p2_ecm_green_lo, p2_ecm_green_hi, GREEN, z=2)
prof(ax2, p2_ecm_red, p2_ecm_red_alt, RED, lw2)
prof(ax2, p2_ecm_blue, p2_ecm_blue_alt, BLUE, lw2)
prof(ax2, p2_ecm_green, p2_ecm_green_alt, GREEN, lw2)
ax2.text(10 ** -3.115, 81.6, "ECMWF", fontsize=32, ha="center", va="center")
ax2.text(10 ** -1.11, 79.3, "lidar", fontsize=28, ha="center", va="center")

# ---------------- PANEL 3 ----------------
band(ax3, p3_sol_red_band_alt, p3_sol_red_lo, p3_sol_red_hi, RED, log=False)
band(ax3, p3_dash_red_band_alt, p3_dash_red_lo, p3_dash_red_hi, RED, log=False)
band(ax3, p3_sol_blue_band_alt, p3_sol_blue_lo, p3_sol_blue_hi, BLUE, log=False)
band(ax3, p3_dash_blue_band_alt, p3_dash_blue_lo, p3_dash_blue_hi, BLUE, log=False)
band(ax3, p3_sol_green_band_alt, p3_sol_green_lo, p3_sol_green_hi, GREEN, log=False)
band(ax3, p3_dash_green_band_alt, p3_dash_green_lo, p3_dash_green_hi, GREEN, log=False)
prof(ax3, p3_sol_red, p3_sol_red_alt, RED, lw2, log=False)
prof(ax3, p3_dash_red, p3_dash_red_alt, RED, lw2, dashed=True, log=False)
prof(ax3, p3_sol_blue, p3_sol_blue_alt, BLUE, lw2, log=False)
prof(ax3, p3_dash_blue, p3_dash_blue_alt, BLUE, lw2, dashed=True, log=False)
prof(ax3, p3_sol_green, p3_sol_green_alt, GREEN, lw2, log=False)
prof(ax3, p3_dash_green, p3_dash_green_alt, GREEN, lw2, dashed=True, log=False)
ax3.axvline(inertial_ratio, color="black", linestyle=(0, (1, 2.2)), linewidth=1.8, zorder=4)

# ---------------- AXES FORMATTING ----------------
for ax in (ax1, ax2, ax3):
    ax.set_ylim(30, 90)
    ax.yaxis.set_major_locator(MultipleLocator(10))
    ax.yaxis.set_minor_locator(MultipleLocator(2))
    ax.tick_params(which="both", direction="in", top=True, right=True,
                   labelsize=TICK_FS, colors=INK, pad=5)
    ax.tick_params(which="major", length=9, width=1.3)
    ax.tick_params(which="minor", length=4.5, width=1.0)
    for sp in ax.spines.values():
        sp.set_linewidth(1.8)
        sp.set_color("#1a1a1a")
    ax.set_ylabel("")
    ax.set_facecolor("white")

decades = [1e-4, 1e-3, 1e-2, 1e-1, 1e0]
for ax, labels in ((ax1, [r"$10^{-4}$", "", r"$10^{-2}$", "", r"$10^{0}$"]),
                   (ax2, ["", r"$10^{-3}$", "", r"$10^{-1}$", ""])):
    ax.set_xscale("log")
    ax.set_xlim(1e-4, 1e0)
    ax.xaxis.set_major_locator(FixedLocator(decades))
    ax.xaxis.set_major_formatter(FixedFormatter(labels))
    ax.xaxis.set_minor_locator(LogLocator(base=10, subs=np.arange(2, 10), numticks=100))
    ax.xaxis.set_minor_formatter(NullFormatter())

ax2.tick_params(labelleft=False)
ax3.tick_params(labelleft=False, top=False, which="both")

ax3.set_xlim(0, 60)
ax3.xaxis.set_major_locator(FixedLocator([0, 20, 40, 60]))
ax3.xaxis.set_minor_locator(MultipleLocator(4))

sec = ax3.secondary_xaxis("top", functions=(lambda v: v * top_period_max / 60.0,
                                            lambda h: h * 60.0 / top_period_max))
sec.set_xticks([0, 4, 8, 12])
sec.xaxis.set_minor_locator(MultipleLocator(1))
sec.tick_params(which="both", direction="in", labelsize=TICK_FS, colors=INK, pad=5)
sec.tick_params(which="major", length=9, width=1.3)
sec.tick_params(which="minor", length=4.5, width=1.0)
sec.spines["top"].set_linewidth(1.8)
sec.set_xlabel("2π" + r"$\hat{\omega}^{-1}$" + " (h)", fontsize=25, labelpad=7)

ax1.set_ylabel("Altitude (km)", fontsize=22)
ax1.yaxis.set_label_coords(-0.165, 0.5)

ax1.set_xlabel(r"$E_{\mathrm{pot}}$ & $E_{\mathrm{kin}}$ $\left(\mathrm{J/m^3}\right)$", fontsize=30)
ax2.set_xlabel(r"$E_{\mathrm{pot}} + E_{\mathrm{kin}}\ \left(\mathrm{J/m^3}\right)$", fontsize=30)
ax3.set_xlabel(r"$E_{\mathrm{kin}}/\ E_{\mathrm{pot}}$", fontsize=28)
for ax, xc in ((ax1, 0.515), (ax2, 0.524), (ax3, 0.545)):
    ax.xaxis.set_label_coords(xc, -0.066)

fig.text(-8 / W, 1 - 50 / H, "Casestudy January 21, 2012", fontsize=38, color="black",
         family=["Liberation Sans", "DejaVu Sans"], ha="left", va="baseline")

fig.savefig("out.png", dpi=100, facecolor="white")
